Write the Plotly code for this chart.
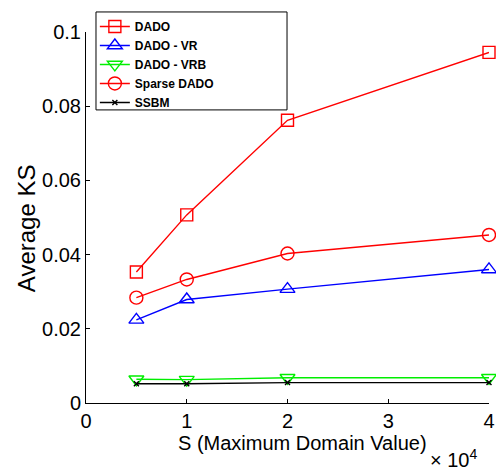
import plotly.graph_objects as go

S = [5000, 10000, 20000, 40000]
dado = [0.0353, 0.0507, 0.0762, 0.0945]
dado_vr = [0.0224, 0.0279, 0.0307, 0.0360]
dado_vrb = [0.0064, 0.0063, 0.0068, 0.0068]
sparse_dado = [0.0284, 0.0333, 0.0403, 0.0453]
ssbm = [0.0052, 0.0052, 0.0055, 0.0055]

x_ticks = [0, 10000, 20000, 30000, 40000]
x_tick_text = ["0", "1", "2", "3", "4"]
y_ticks = [0, 0.02, 0.04, 0.06, 0.08, 0.1]
y_tick_text = ["0", "0.02", "0.04", "0.06", "0.08", "0.1"]

fig = go.Figure()
series = [
    ("DADO", dado, "#ff0000", "square-open", 12),
    ("DADO - VR", dado_vr, "#0000ff", "triangle-up-open", 13),
    ("DADO - VRB", dado_vrb, "#00ee00", "triangle-down-open", 13),
    ("Sparse DADO", sparse_dado, "#ff0000", "circle-open", 13),
    ("SSBM", ssbm, "#000000", "x-thin-open", 5),
]
for name, ys, col, sym, sz in series:
    fig.add_trace(go.Scatter(
        x=S, y=ys, name=name, mode="lines+markers", cliponaxis=False,
        line=dict(color=col, width=1.4),
        marker=dict(symbol=sym, size=sz, color=col, line=dict(color=col, width=1.4)),
    ))

fig.update_layout(
    width=496, height=474,
    margin=dict(l=86, r=7, t=32, b=71, autoexpand=False),
    paper_bgcolor="white", plot_bgcolor="white",
    font=dict(family="Liberation Sans, Arial", color="black"),
    showlegend=True,
    legend=dict(
        x=0.022, y=1.054, xanchor="left", yanchor="top",
        bgcolor="rgba(0,0,0,0)", borderwidth=0,
        font=dict(size=12, family="Liberation Sans, Arial", weight="bold"),
        tracegroupgap=0, itemwidth=30,
    ),
    xaxis=dict(
        range=[0, 40000], tickvals=x_ticks, ticktext=x_tick_text,
        showline=True, linecolor="black", linewidth=1,
        ticks="inside", ticklen=4, tickcolor="black",
        showgrid=False, zeroline=False, automargin=False,
        tickfont=dict(size=20),
    ),
    yaxis=dict(
        range=[0, 0.1], tickvals=y_ticks, ticktext=y_tick_text,
        showline=True, linecolor="black", linewidth=1,
        ticks="inside", ticklen=4, tickcolor="black",
        showgrid=False, zeroline=False, automargin=False,
        tickfont=dict(size=20),
    ),
    shapes=[dict(
        type="rect", xref="paper", yref="paper",
        x0=0.0248, x1=0.4988, y0=0.79, y1=1.054,
        line=dict(color="black", width=1), fillcolor="white", layer="above",
    )],
)
fig.add_annotation(
    xref="paper", yref="paper", x=0.536, y=-0.108, xanchor="center", yanchor="middle",
    text="S (Maximum Domain Value)", showarrow=False, font=dict(size=20),
)
fig.add_annotation(
    xref="paper", yref="paper", x=-0.146, y=0.4717, xanchor="center", yanchor="middle",
    text="Average KS", textangle=-90, showarrow=False, font=dict(size=24),
)
fig.add_annotation(
    xref="paper", yref="paper", x=0.975, y=-0.19, xanchor="right", yanchor="bottom",
    text="× 10<sup>4</sup>", showarrow=False, font=dict(size=20),
)
fig.write_html("out.html", config={"displayModeBar": False},
               post_script="document.body.style.margin='0px';")
